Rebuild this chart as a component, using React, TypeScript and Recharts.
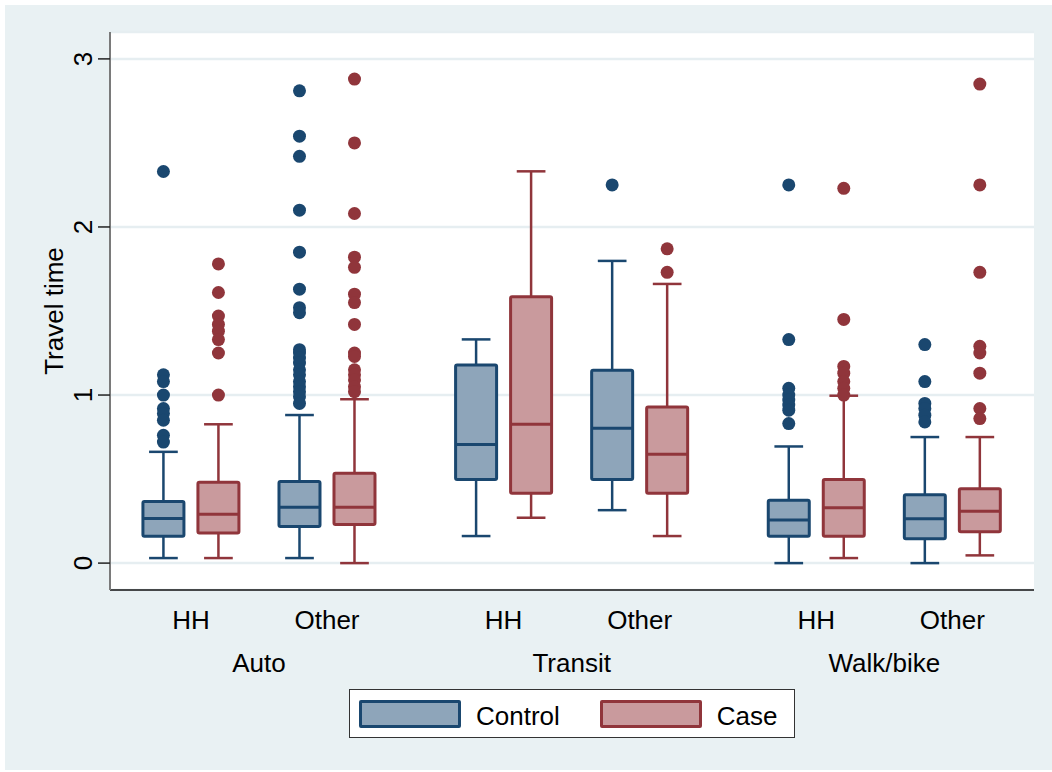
import { ComposedChart, Bar, XAxis, YAxis, CartesianGrid } from "recharts";

const groups = ["Auto", "Transit", "Walk/bike"];
const purposes = ["HH", "Other"];
const yTicks = [0, 1, 2, 3];

// [lower whisker, q1, median, q3, upper whisker], one row per group x purpose
const controlStats = [
  [0.03, 0.16, 0.265, 0.367, 0.662],
  [0.03, 0.218, 0.333, 0.486, 0.881],
  [0.161, 0.498, 0.706, 1.179, 1.331],
  [0.315, 0.498, 0.802, 1.147, 1.798],
  [0.0, 0.16, 0.256, 0.374, 0.694],
  [0.0, 0.145, 0.264, 0.407, 0.75],
];
const caseStats = [
  [0.03, 0.179, 0.29, 0.481, 0.826],
  [0.0, 0.229, 0.333, 0.535, 0.975],
  [0.27, 0.415, 0.826, 1.585, 2.331],
  [0.161, 0.415, 0.647, 0.929, 1.661],
  [0.03, 0.16, 0.329, 0.498, 0.996],
  [0.046, 0.186, 0.309, 0.442, 0.75],
];

const controlOutliers = [
  [2.33, 1.12, 1.08, 1.0, 0.92, 0.89, 0.85, 0.76, 0.72],
  [2.81, 2.54, 2.42, 2.1, 1.85, 1.63, 1.52, 1.49, 1.27, 1.25, 1.22, 1.19, 1.15, 1.12, 1.08, 1.05, 1.02, 0.99, 0.95],
  [],
  [2.25],
  [2.25, 1.33, 1.04, 1.0, 0.97, 0.94, 0.91, 0.83],
  [1.3, 1.08, 0.95, 0.92, 0.88, 0.84],
];
const caseOutliers = [
  [1.78, 1.61, 1.47, 1.42, 1.38, 1.33, 1.25, 1.0],
  [2.88, 2.5, 2.08, 1.82, 1.76, 1.6, 1.55, 1.42, 1.25, 1.23, 1.15, 1.12, 1.09, 1.05, 1.02],
  [],
  [1.87, 1.73],
  [2.23, 1.45, 1.17, 1.13, 1.08, 1.04, 1.0],
  [2.85, 2.25, 1.73, 1.29, 1.25, 1.13, 0.92, 0.86],
];

const CONTROL = { stroke: "#1a476f", fill: "#8ea5ba" };
const CASE = { stroke: "#90353b", fill: "#c99a9d" };
const GRID = "#e6eef1";
const BG = "#e9f1f3";
const FONT = "'Liberation Sans', Arial, sans-serif";

// extra space between the over() groups, in units of the within-group spacing
const GROUP_GAP = 0.298;
const posOf = (g: number, p: number) => g * (2 + GROUP_GAP) + p;

const data = controlStats.map((c, i) => {
  const g = Math.floor(i / 2);
  const p = i % 2;
  const k = caseStats[i];
  return {
    pos: posOf(g, p),
    control: [c[1], c[3]],
    case: [k[1], k[3]],
    controlStats: c,
    caseStats: k,
    controlOut: controlOutliers[i],
    caseOut: caseOutliers[i],
  };
});

const catTicks = data.map((d) => d.pos);
const groupTicks = groups.map((_, g) => posOf(g, 0.5));

const makeBox = (kind: "control" | "case") => (props: any) => {
  const { x, y, width, height, payload } = props;
  const st = kind === "control" ? CONTROL : CASE;
  const [lo, q1, med, q3, hi] = payload[kind + "Stats"];
  const outs: number[] = payload[kind + "Out"];
  const unit = height / (q3 - q1);
  const yOf = (v: number) => y + (q3 - v) * unit;
  const cx = x + width / 2;
  const cap = width * 0.35;
  return (
    <g>
      <line x1={cx} x2={cx} y1={yOf(q3)} y2={yOf(hi)} stroke={st.stroke} strokeWidth={2.5} />
      <line x1={cx} x2={cx} y1={yOf(q1)} y2={yOf(lo)} stroke={st.stroke} strokeWidth={2.5} />
      <line x1={cx - cap} x2={cx + cap} y1={yOf(hi)} y2={yOf(hi)} stroke={st.stroke} strokeWidth={2.5} />
      <line x1={cx - cap} x2={cx + cap} y1={yOf(lo)} y2={yOf(lo)} stroke={st.stroke} strokeWidth={2.5} />
      <rect x={x} y={y} width={width} height={height} fill={st.fill} stroke={st.stroke} strokeWidth={3} rx={1.5} />
      <line x1={x} x2={x + width} y1={yOf(med)} y2={yOf(med)} stroke={st.stroke} strokeWidth={3} />
      {outs.map((v, i) => (
        <circle key={i} cx={cx} cy={yOf(v)} r={6.5} fill={st.stroke} />
      ))}
    </g>
  );
};

const YTick = (props: any) => {
  const { x, y, payload } = props;
  return (
    <text x={x} y={y} transform={`rotate(-90 ${x} ${y})`} textAnchor="middle" fontSize={26} fill="#000">
      {payload.value}
    </text>
  );
};

const YTitle = (props: any) => {
  const vb = props.viewBox || { x: 0, y: 32, height: 558 };
  const x = vb.x + 63;
  const y = vb.y + vb.height / 2;
  return (
    <text x={x} y={y} transform={`rotate(-90 ${x} ${y})`} textAnchor="middle" fontSize={26} fill="#000">
      Travel time
    </text>
  );
};

function LegendBox() {
  const item = (label: string, st: { stroke: string; fill: string }) => (
    <div style={{ display: "flex", alignItems: "center" }}>
      <div
        style={{
          width: 96,
          height: 22,
          background: st.fill,
          border: `3px solid ${st.stroke}`,
          borderRadius: 2,
        }}
      />
      <span style={{ marginLeft: 15, fontSize: 26, color: "#000", position: "relative", top: 3 }}>{label}</span>
    </div>
  );
  return (
    <div
      style={{
        position: "absolute",
        left: 349,
        top: 689,
        width: 446,
        height: 49,
        background: "#fff",
        border: "1px solid #333",
        display: "flex",
        alignItems: "center",
        paddingLeft: 9,
        boxSizing: "border-box",
        gap: 40,
      }}
    >
      {item("Control", CONTROL)}
      {item("Case", CASE)}
    </div>
  );
}

export default function App() {
  return (
    <div style={{ position: "relative", width: 1052, height: 772, background: "#fff", fontFamily: FONT }}>
      <style>{`body{margin:0}`}</style>
      <div style={{ position: "absolute", left: 5, top: 5, width: 1047, height: 765, background: BG }} />
      <div style={{ position: "absolute", left: 0, top: 0 }}>
        <ComposedChart
          width={1052}
          height={772}
          data={data}
          margin={{ top: 32, right: 18, left: 0, bottom: 77 }}
          barGap={14}
        >
          <CartesianGrid horizontal vertical={false} stroke={GRID} strokeWidth={2.5} fill="#fff" />
          <XAxis
            dataKey="pos"
            type="number"
            domain={[-0.595, 6.196]}
            ticks={catTicks}
            tickFormatter={(_v: number, i: number) => purposes[i % 2]}
            interval={0}
            height={45}
            tickLine={false}
            tickSize={0}
            tickMargin={21}
            axisLine={{ stroke: "#111", strokeWidth: 1.5 }}
            tick={{ fill: "#000", fontSize: 26 }}
          />
          <XAxis
            xAxisId="grp"
            dataKey="pos"
            type="number"
            domain={[-0.595, 6.196]}
            ticks={groupTicks}
            tickFormatter={(_v: number, i: number) => groups[i]}
            interval={0}
            height={60}
            tickLine={false}
            tickSize={0}
            tickMargin={19}
            axisLine={false}
            tick={{ fill: "#000", fontSize: 26 }}
          />
          <YAxis
            type="number"
            domain={[-0.16, 3.16]}
            ticks={yTicks}
            width={110}
            tickSize={12}
            tickMargin={6}
            axisLine={{ stroke: "#7a7a7a", strokeWidth: 2 }}
            tickLine={{ stroke: "#222", strokeWidth: 1.5 }}
            tick={<YTick />}
            label={{ content: <YTitle /> }}
          />
          <Bar dataKey="control" barSize={41} shape={makeBox("control")} isAnimationActive={false} />
          <Bar dataKey="case" barSize={41} shape={makeBox("case")} isAnimationActive={false} />
        </ComposedChart>
      </div>
      <LegendBox />
    </div>
  );
}
